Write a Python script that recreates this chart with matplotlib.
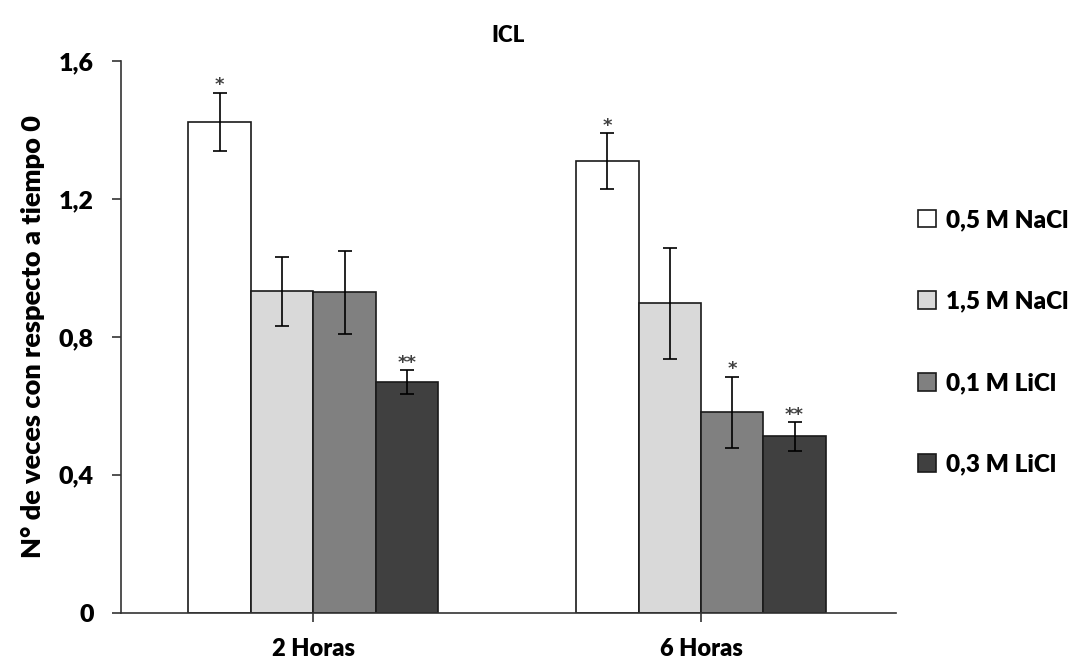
import matplotlib
matplotlib.use("Agg")
import matplotlib.pyplot as plt
import numpy as np

categories = ["2 Horas", "6 Horas"]
series = ["0,5 M NaCl", "1,5 M NaCl", "0,1 M LiCl", "0,3 M LiCl"]
values = [
    [1.423, 1.310],
    [0.932, 0.897],
    [0.929, 0.581],
    [0.668, 0.511],
]
errors = [
    [0.085, 0.080],
    [0.100, 0.160],
    [0.120, 0.103],
    [0.035, 0.041],
]
signif = [
    ["*", "*"],
    ["", ""],
    ["", "*"],
    ["**", "**"],
]
colors = ["#ffffff", "#d9d9d9", "#808080", "#404040"]
yticks = [0, 0.4, 0.8, 1.2, 1.6]
ytick_labels = ["0", "0,4", "0,8", "1,2", "1,6"]

plt.rcParams['font.family'] = ['Lato', 'DejaVu Sans']

fig = plt.figure(figsize=(10.86, 6.64), dpi=100)
ax = fig.add_axes([0.1111, 0.0773, 0.7139, 0.8308])

x = np.arange(len(categories))
w = 0.161
n = len(series)
for i in range(n):
    pos = x + (i - (n - 1) / 2) * w
    ax.bar(pos, values[i], width=w, color=colors[i], edgecolor="#1a1a1a",
           linewidth=1.2, label=series[i], zorder=2)
    ax.errorbar(pos, values[i], yerr=errors[i], fmt="none", ecolor="black",
                elinewidth=1.2, capsize=5, capthick=1.2, zorder=3)
    for j in range(len(categories)):
        if signif[i][j]:
            ax.annotate(signif[i][j], (pos[j], values[i][j] + errors[i][j]),
                        xytext=(0, -1), textcoords="offset points",
                        ha="center", va="bottom", fontsize=13, fontweight="bold",
                        color="#404040", family="DejaVu Sans")

ax.set_xlim(-0.497, 1.503)
ax.set_ylim(0, 1.6)
ax.set_xticks(x)
ax.set_xticklabels(categories, fontsize=17, fontweight="heavy")
ax.set_yticks(yticks)
ax.set_yticklabels(ytick_labels, fontsize=18, fontweight="heavy")
ax.tick_params(axis="both", direction="out", length=6.5, width=1.2, color="#333333")
ax.tick_params(axis="x", pad=12)
ax.tick_params(axis="y", pad=13)
for s in ["top", "right"]:
    ax.spines[s].set_visible(False)
for s in ["left", "bottom"]:
    ax.spines[s].set_linewidth(1.2)
    ax.spines[s].set_color("#333333")

ax.set_ylabel("N° de veces con respecto a tiempo 0", fontsize=19.5, fontweight="heavy", labelpad=10)
ax.set_title("ICL", fontsize=16, fontweight="heavy", pad=14)

leg = ax.legend(loc="center left", bbox_to_anchor=(1.0, 0.49), frameon=False,
                handlelength=0.75, handleheight=0.75, handletextpad=0.4,
                labelspacing=2.45, prop={"weight": "heavy", "size": 17.5})

fig.savefig("out.png", dpi=100)
